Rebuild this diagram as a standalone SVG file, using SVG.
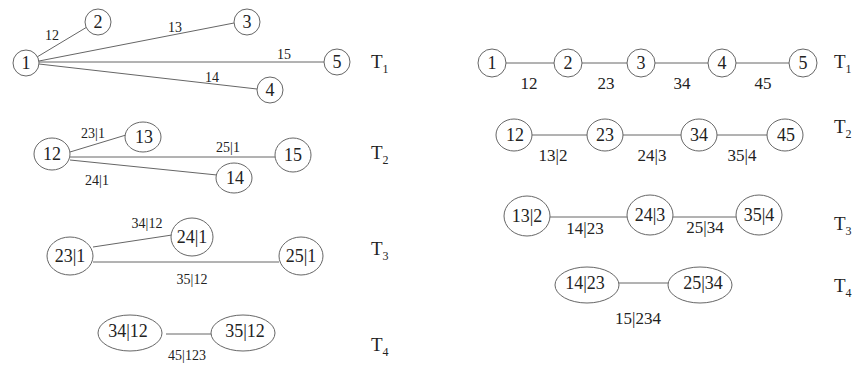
<svg xmlns="http://www.w3.org/2000/svg" width="858" height="366" viewBox="0 0 858 366">
<style>
.n{fill:#fff;stroke:#666;stroke-width:1}
.e{stroke:#666;stroke-width:1;fill:none}
text{font-family:"Liberation Serif","Times New Roman",serif;fill:#222;text-anchor:middle}
.nt{font-size:18px}
.el{font-size:14px}
.er{font-size:17px}
.t{font-size:19px;text-anchor:start}
.t tspan.s{font-size:12px}
</style>
<rect width="858" height="366" fill="#fff"/>
<g id="connectors">
<line class="e" x1="37" y1="57" x2="87" y2="27"/>
<line class="e" x1="39" y1="61" x2="234" y2="23"/>
<line class="e" x1="39" y1="62" x2="324" y2="62"/>
<line class="e" x1="39" y1="64" x2="257" y2="89"/>
<line class="e" x1="70" y1="152" x2="126" y2="135"/>
<line class="e" x1="70" y1="157" x2="275" y2="157"/>
<line class="e" x1="70" y1="160" x2="217" y2="175"/>
<line class="e" x1="93" y1="247" x2="172" y2="235"/>
<line class="e" x1="93" y1="262" x2="279" y2="262"/>
<line class="e" x1="166" y1="334" x2="212" y2="334"/>
<line class="e" x1="506" y1="63" x2="554" y2="63"/>
<line class="e" x1="582" y1="63" x2="627" y2="63"/>
<line class="e" x1="655" y1="63" x2="708" y2="63"/>
<line class="e" x1="736" y1="63" x2="789" y2="63"/>
<line class="e" x1="532" y1="135" x2="587" y2="135"/>
<line class="e" x1="623" y1="135" x2="681" y2="135"/>
<line class="e" x1="717" y1="135" x2="767" y2="135"/>
<line class="e" x1="550" y1="217" x2="627" y2="217"/>
<line class="e" x1="673" y1="217" x2="736" y2="217"/>
<line class="e" x1="619" y1="283" x2="668" y2="283"/>
</g>
<g id="edge-labels">
<text class="el" x="52" y="40">12</text>
<text class="el" x="175" y="32">13</text>
<text class="el" x="284" y="59">15</text>
<text class="el" x="212" y="82">14</text>
<text class="el" x="93" y="138">23|1</text>
<text class="el" x="228" y="152">25|1</text>
<text class="el" x="97" y="185">24|1</text>
<text class="el" x="147" y="228">34|12</text>
<text class="el" x="192" y="284">35|12</text>
<text class="el" x="187" y="360">45|123</text>
<text class="er" x="529" y="89">12</text>
<text class="er" x="606" y="89">23</text>
<text class="er" x="682" y="89">34</text>
<text class="er" x="763" y="89">45</text>
<text class="er" x="553" y="161">13|2</text>
<text class="er" x="652" y="161">24|3</text>
<text class="er" x="742" y="161">35|4</text>
<text class="er" x="585" y="234">14|23</text>
<text class="er" x="705" y="233">25|34</text>
<text class="er" x="638" y="324">15|234</text>
</g>
<g id="L1-1"><circle class="n" cx="26" cy="63" r="13"/><text class="nt" x="26" y="69">1</text></g>
<g id="L1-2"><circle class="n" cx="98" cy="22" r="13"/><text class="nt" x="98" y="28">2</text></g>
<g id="L1-3"><circle class="n" cx="247" cy="22" r="13"/><text class="nt" x="247" y="28">3</text></g>
<g id="L1-5"><circle class="n" cx="337" cy="62" r="13"/><text class="nt" x="337" y="68">5</text></g>
<g id="L1-4"><circle class="n" cx="270" cy="90" r="13"/><text class="nt" x="270" y="96">4</text></g>
<g id="L2-12"><ellipse class="n" cx="52" cy="154" rx="18" ry="16"/><text class="nt" x="52" y="160">12</text></g>
<g id="L2-13"><ellipse class="n" cx="143" cy="137" rx="18" ry="15"/><text class="nt" x="144" y="143">13</text></g>
<g id="L2-15"><ellipse class="n" cx="293" cy="155" rx="18" ry="17"/><text class="nt" x="293" y="161">15</text></g>
<g id="L2-14"><ellipse class="n" cx="234" cy="178" rx="18" ry="15"/><text class="nt" x="235" y="184">14</text></g>
<g id="L3-241"><ellipse class="n" cx="192" cy="237" rx="21" ry="19"/><text class="nt" x="192" y="243">24|1</text></g>
<g id="L3-231"><ellipse class="n" cx="70" cy="256" rx="23" ry="19"/><text class="nt" x="70" y="262">23|1</text></g>
<g id="L3-251"><ellipse class="n" cx="301" cy="256" rx="22" ry="19"/><text class="nt" x="301" y="262">25|1</text></g>
<g id="L4-3412"><ellipse class="n" cx="130" cy="333" rx="32" ry="18"/><text class="nt" x="128" y="337">34|12</text></g>
<g id="L4-3512"><ellipse class="n" cx="243" cy="333" rx="32" ry="18"/><text class="nt" x="245" y="337">35|12</text></g>
<g id="R1-1"><circle class="n" cx="492" cy="63" r="14"/><text class="nt" x="492" y="69">1</text></g>
<g id="R1-2"><circle class="n" cx="568" cy="63" r="14"/><text class="nt" x="568" y="69">2</text></g>
<g id="R1-3"><circle class="n" cx="641" cy="63" r="14"/><text class="nt" x="641" y="69">3</text></g>
<g id="R1-4"><circle class="n" cx="722" cy="63" r="14"/><text class="nt" x="722" y="69">4</text></g>
<g id="R1-5"><circle class="n" cx="803" cy="63" r="14"/><text class="nt" x="803" y="69">5</text></g>
<g id="R2-12"><ellipse class="n" cx="514" cy="135" rx="18" ry="16"/><text class="nt" x="515" y="141">12</text></g>
<g id="R2-23"><ellipse class="n" cx="605" cy="135" rx="18" ry="16"/><text class="nt" x="605" y="141">23</text></g>
<g id="R2-34"><ellipse class="n" cx="699" cy="135" rx="18" ry="16"/><text class="nt" x="699" y="141">34</text></g>
<g id="R2-45"><ellipse class="n" cx="785" cy="135" rx="18" ry="16"/><text class="nt" x="786" y="141">45</text></g>
<g id="R3-132"><ellipse class="n" cx="527" cy="216" rx="23" ry="20"/><text class="nt" x="527" y="222">13|2</text></g>
<g id="R3-243"><ellipse class="n" cx="650" cy="215" rx="23" ry="20"/><text class="nt" x="650" y="221">24|3</text></g>
<g id="R3-354"><ellipse class="n" cx="759" cy="215" rx="23" ry="20"/><text class="nt" x="759" y="221">35|4</text></g>
<g id="R4-1423"><ellipse class="n" cx="587" cy="285" rx="32" ry="18"/><text class="nt" x="585" y="289">14|23</text></g>
<g id="R4-2534"><ellipse class="n" cx="700" cy="285" rx="32" ry="18"/><text class="nt" x="703" y="289">25|34</text></g>
<g id="tree-labels">
<text class="t" x="371" y="68">T<tspan class="s" dy="5">1</tspan></text>
<text class="t" x="371" y="159">T<tspan class="s" dy="5">2</tspan></text>
<text class="t" x="371" y="255">T<tspan class="s" dy="5">3</tspan></text>
<text class="t" x="371" y="351">T<tspan class="s" dy="5">4</tspan></text>
<text class="t" x="834" y="68">T<tspan class="s" dy="5">1</tspan></text>
<text class="t" x="834" y="133">T<tspan class="s" dy="5">2</tspan></text>
<text class="t" x="834" y="230">T<tspan class="s" dy="5">3</tspan></text>
<text class="t" x="834" y="292">T<tspan class="s" dy="5">4</tspan></text>
</g>
</svg>
